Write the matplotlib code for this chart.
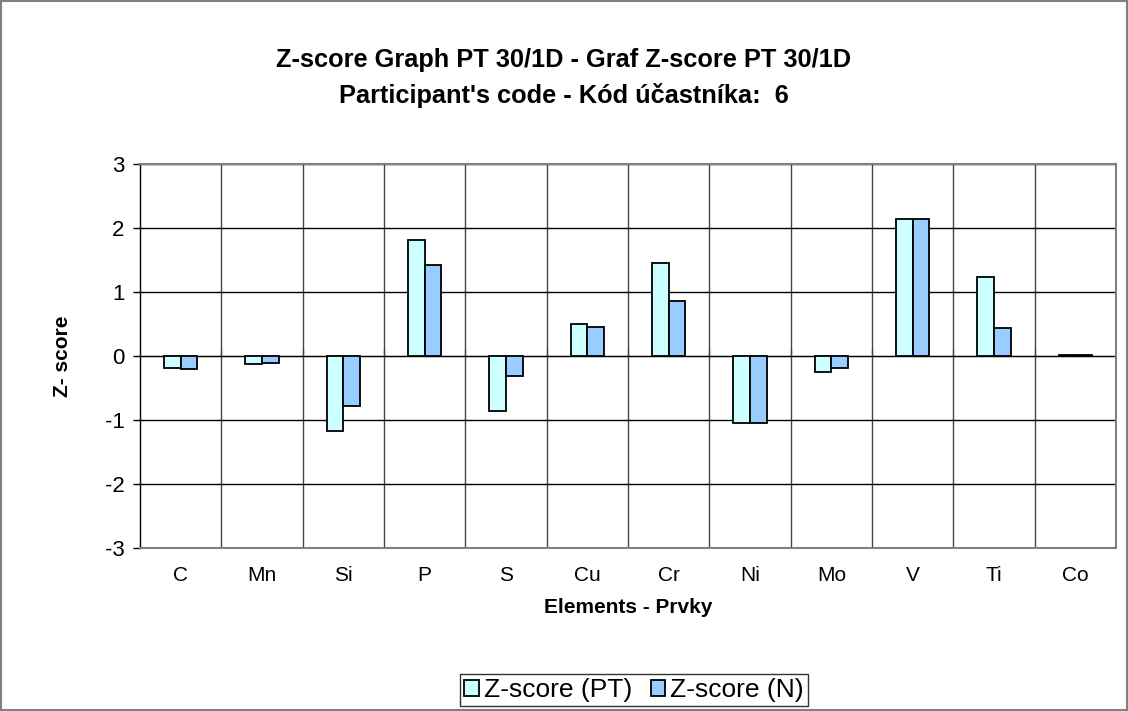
import numpy as np
import matplotlib.pyplot as plt
from matplotlib.patches import Rectangle

elements = ['C', 'Mn', 'Si', 'P', 'S', 'Cu', 'Cr', 'Ni', 'Mo', 'V', 'Ti', 'Co']
z_pt = [-0.18, -0.13, -1.17, 1.81, -0.86, 0.50, 1.45, -1.05, -0.25, 2.14, 1.23, 0.02]
z_n = [-0.21, -0.11, -0.78, 1.42, -0.32, 0.45, 0.86, -1.05, -0.18, 2.14, 0.44, 0.02]

plt.rcParams['font.family'] = ['Liberation Sans', 'DejaVu Sans']
plt.rcParams['axes.unicode_minus'] = False

fig = plt.figure(figsize=(11.28, 7.11), dpi=100)
ax = fig.add_axes([140 / 1128, 1 - 548 / 711, 976 / 1128, 384 / 711])

x = np.arange(len(elements))
w = 0.205
ax.bar(x - w / 2, z_pt, w, color='#ccffff', edgecolor='black', linewidth=1.3,
       label='Z-score (PT)', zorder=3)
ax.bar(x + w / 2, z_n, w, color='#99ccff', edgecolor='black', linewidth=1.3,
       label='Z-score (N)', zorder=3)

ax.set_xlim(-0.5, len(elements) - 0.5)
ax.set_ylim(-3, 3)
ax.set_yticks(range(-3, 4))
ax.set_xticks(x)
ax.set_xticklabels(elements)
ax.set_xticks(x[:-1] + 0.5, minor=True)
ax.tick_params(axis='x', which='both', length=0, pad=13, labelsize=15)
ax.tick_params(axis='y', direction='out', length=5, width=1, color='black',
               pad=6, labelsize=16)

ax.grid(axis='y', color='black', linewidth=1)
ax.grid(axis='x', which='minor', color='#444444', linewidth=1)
for s in ax.spines.values():
    s.set_color('#808080')
    s.set_linewidth(1.5)
ax.spines['left'].set_color('black')
ax.spines['left'].set_linewidth(1)
ax.set_axisbelow(True)

# zero line acting as category axis, with small ticks between categories
zero = ax.secondary_xaxis(0.5)
zero.set_xticks(x[:-1] + 0.5)
zero.set_xticklabels([])
zero.tick_params(direction='out', length=5, width=1, color='#808080')
zero.spines['bottom'].set_color('#808080')
zero.spines['bottom'].set_linewidth(1.5)

ax.set_xlabel('Elements - Prvky', fontsize=15, fontweight='bold', labelpad=9)
ax.set_ylabel('Z- score', fontsize=15, fontweight='bold', labelpad=24)

fig.text(0.5, 1 - 60 / 711, 'Z-score Graph PT 30/1D - Graf Z-score PT 30/1D',
         ha='center', va='center', fontsize=18.3, fontweight='bold')
fig.text(0.5, 1 - 95 / 711, "Participant's code - Kód účastníka:  6",
         ha='center', va='center', fontsize=18.3, fontweight='bold')

leg = fig.legend(loc='center', bbox_to_anchor=(634 / 1128, 1 - 690 / 711), ncol=2,
                 fontsize=19, frameon=True, fancybox=False, handlelength=0.55,
                 handleheight=0.55, handletextpad=0.2, columnspacing=0.7,
                 borderpad=0.15, borderaxespad=0)
leg.get_frame().set_edgecolor('black')
leg.get_frame().set_linewidth(1)

fig.patches.append(Rectangle((0.001, 0.001), 0.998, 0.998, transform=fig.transFigure,
                             fill=False, edgecolor='#808080', linewidth=1.5))

fig.savefig('out.png', dpi=100)
